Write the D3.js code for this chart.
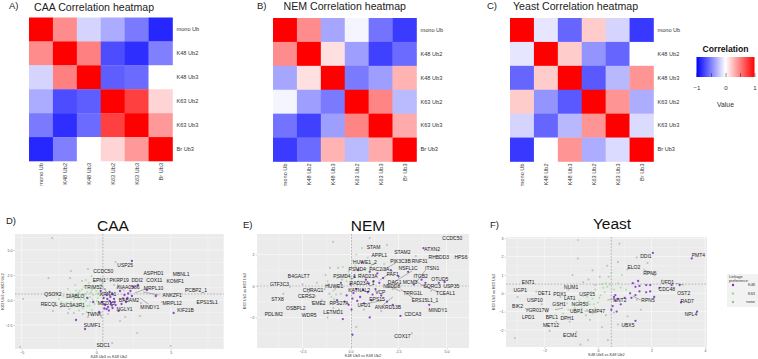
<!DOCTYPE html>
<html>
<head>
<meta charset="utf-8">
<script src="https://cdn.jsdelivr.net/npm/d3@7"></script>
<style>
  body { margin: 0; background: #fff; }
  svg, svg text { display: block; font-family: "Liberation Sans", Arial, sans-serif; }
</style>
</head>
<body>
<div id="chart"></div>
<script>
// linkage names shared by the three heatmaps
var linkages = ["mono Ub", "K48 Ub2", "K48 Ub3", "K63 Ub2", "K63 Ub3", "Br Ub3"];

var caaCorr = [
  [1, .45, -.17, -.33, -.52, -.85],
  [.45, 1, .5, -.7, -.82, -.5],
  [-.17, .5, 1, -.63, -.58, 0],
  [-.33, -.7, -.63, 1, .75, .17],
  [-.52, -.82, -.58, .75, 1, .4],
  [-.85, -.5, 0, .17, .4, 1]
];
var nemCorr = [
  [1, .45, -.35, -.04, -.55, -.77],
  [.45, 1, .12, -.38, -.75, -.58],
  [-.35, .12, 1, -.52, -.38, .3],
  [-.04, -.38, -.52, 1, .48, -.27],
  [-.55, -.75, -.38, .48, 1, .33],
  [-.77, -.58, .3, -.27, .33, 1]
];
var yeastCorr = [
  [1, -.1, -.6, .2, -.17, -.78],
  [-.1, 1, .2, -.42, -.6, 0],
  [-.6, .2, 1, -.65, -.28, .42],
  [.2, -.42, -.65, 1, .42, -.32],
  [-.17, -.6, -.28, .42, 1, -.14],
  [-.78, 0, .42, -.32, -.14, 1]
];

var corrTicks = [-1, -.5, 0, .5, 1];
var corrLabels = [-1, 0, 1];

// ---- scatter values, [x, y]
var caaK48 = [[2.4,3.9],[5.2,-1.3],[-.75,-2.9],[-1.35,-2],[.5,.2],[.7,.5],[.9,-.1],[1.1,.6],[.6,-.5],[.8,-.7],[1,-.3],[1.2,.1],[.4,-.2],[.9,.8],[1.3,-.5],[.7,-.9],[1.1,-.8],[1.6,.9],[1.9,.5],[2.1,.2],[2.3,.9],[2.5,1.3],[2,-.2],[1.7,-.4],[2.4,.4],[2.8,1.5],[3.4,1],[4,.4],[-.6,.2],[-.2,-.2],[.2,-1.2],[1.5,-1.1],[.3,.9],[.75,.1],[.95,.3],[.55,-.85],[1.05,-.55],[.85,-1.05],[1.25,-.2],[2.15,.65],[1.8,.15]];
var caaK63 = [[-1.9,1.1],[-1.6,.6],[-1.4,1.5],[-1.2,.2],[-1.1,.9],[-1,-.3],[-.9,.5],[-.8,1.3],[-.7,-.1],[-.6,.8],[-.5,1.7],[-.4,.3],[-.3,1],[-.2,.5],[-.1,-.4],[0,.9],[.1,.2],[.2,1.4],[-1.7,-.2],[-1.3,-.6],[-.9,-.8],[-.6,-.6],[-.3,-1],[-2.2,.4],[-2.5,.1],[-.7,2],[-.3,2.4],[-.1,1.9],[.4,1.6],[-1.5,.1],[-.8,.1],[-.4,-.2],[-2,-.3],[-1.8,.3],[-1.55,-.5],[-1.25,.5],[-1.05,.05],[-.95,1.05],[-.75,.6],[-.55,.15],[-.45,-.55],[-.25,.05],[-.15,1.15],[.05,-.1],[.15,.7],[-1.35,.95],[-2.35,-.2],[-.65,-1.2],[-1.15,-1.05],[.25,.45]];
var caaNone = [[-2.95,6.2],[-3.2,2.2],[-1.7,2.9],[-1.75,2.2],[-5.1,-4.7],[-4.9,.1],[-2.9,-1.1],[1.07,-4.3],[-.55,3.1],[1.3,3.8],[5,-4.6],[2.75,-3.3],[1.95,-1.7],[2.95,-1.6],[1.6,-2.1],[.8,-1.4],[-.2,-1.5],[-.9,-1.4],[1.4,1.2],[.6,1.1],[-2.1,-.5],[-1.8,-.9],[2.2,-.9],[3,-.3],[.1,.6],[-1.2,.7],[-2.7,.7],[-2.4,-.7],[-1.5,-1.3],[-.55,-1.7],[.35,-1.7],[1.2,1.5],[.75,2.1],[-.95,1.9],[-1.45,.45],[-.35,.75],[-1.9,-1.3],[3.6,-.7],[4.4,-.2]];

var nemK48 = [[.1,-3.1],[-.4,-2.1],[1,-2],[.05,-1.5],[-.5,.2],[.2,.6],[.4,1],[.6,1.5],[.8,.4],[1,.9],[1.2,.3],[1.4,.8],[.3,-.2],[.5,-.7],[.7,-1.1],[.9,-.4],[1.1,-.9],[1.3,-.2],[1.6,-.6],[1.9,-1],[2.2,-1.2],[2.6,-1.9],[3.8,2.4],[3.7,.4],[3.9,.2],[4.6,.2],[4.9,.25],[4.1,-1.2],[-.2,-.6],[-.3,-1],[0,.1],[1.7,.5],[2.1,1],[2.5,.6],[3,.9],[3.3,.1],[-.7,-.9],[.15,-.45],[.65,-.25],[.95,.15],[1.15,-.55],[.35,-.95],[.1,-.8],[1.5,.2],[-.1,-1.2]];
var nemK63 = [[.1,1.6],[.3,2],[.6,2.4],[.9,1.8],[1.2,1.4],[.4,.3],[-.1,.9],[-.4,1.2],[-.7,.5],[-.9,-.3],[-1,-.7],[-.6,-1.1],[1.5,1.9],[.8,1.1],[-.2,.3],[-1.2,.3],[.55,.75],[.25,1.25],[-.25,.65],[-.55,.05],[-.75,-.55],[.05,.45],[1.05,1.25],[1.75,1.4]];
var nemNone = [[-.9,2.8],[1,3.05],[-1.2,-2],[-1.3,.7],[-1.07,1.15],[-.65,1.15],[-3.15,-.05],[-1.75,.2],[3.2,-3],[5.4,3.1],[-2.2,-.4],[-2,-1],[-1.5,-.9],[-1.6,-.3],[-1.1,-.5],[-.8,-.2],[-.5,-.5],[-.9,-1.4],[1.9,2.6],[2.9,1.6],[4.2,-.3],[2.2,-.2],[3.5,-1],[.3,-2.6],[-1.35,-.2],[-1.15,.1],[-.85,-.85],[-.45,.4],[-.6,-1.5],[-1.85,-.65],[-2.5,.1],[-3.5,-.5],[1.6,-1.6],[.7,-1.5],[2.7,1.2],[3.4,1.9]];

var yeastK48 = [[2.05,2.2],[3.5,1.9],[3.7,-1],[1.4,-1.5],[1.5,.67],[1.3,.55],[1.4,.35],[1.55,.4],[1.8,.45],[1.95,.45],[1.4,-.1],[1.2,0],[1.25,-.25],[1.55,.1],[1.8,.05],[1.95,.1],[2.1,-.2],[2.75,.45],[3.05,.45],[3.1,-.5],[2.3,.3],[.65,-.1],[.65,-.4],[.55,-.7],[.5,-.9],[.7,-1],[1,-.25],[.85,-.6],[.6,-.2],[.75,-.3]];
var yeastK63 = [[-.75,2.9],[.35,.35],[-.9,-.6],[-.7,-.4],[-.6,-.8],[-.5,-.5],[-.4,-.9],[-.3,-.6],[-.2,-.3],[-.1,-.8],[0,-.5],[.1,-.1],[.2,.3],[-1.1,-.9],[-1.3,-1.1],[-.8,-1],[-.4,-.2],[-.1,.2],[.3,.55],[.5,1.1],[.9,1],[.85,.3],[.6,.2],[-1.6,-1.2],[-1.9,-1],[-.2,-1.1],[-.95,-.3],[-.55,-.15],[-.85,-.8],[-.65,-1.05],[-.35,-.45],[-.15,-.6],[.05,-.25],[.25,.05],[.15,.5],[.45,.5],[.75,.55],[1.05,.2],[-1.15,-.55],[-.25,.05]];
var yeastNone = [[.8,2.7],[1.45,1.95],[1.85,1.65],[.75,1.7],[1.1,-1.25],[1.45,-.35],[-3.1,-2.45],[-1.8,-2.05],[-.65,-2.8],[-.37,-2.55],[.37,-2.55],[-.75,1.9],[-.2,1.25],[.07,.9],[-.95,1],[-.8,-2.1],[-.3,-1.45],[.15,-1.85],[-2.1,-.6],[-1.4,-.2],[-1.1,.2],[-2.6,-.9],[.3,-1.2],[.75,-1.7],[1.6,-.9],[2.4,.7],[-.55,.6],[-.1,.45],[.4,.9],[-1.55,-1.55],[-1.05,-1.55],[-.45,-1.2],[.6,-1.05],[-3,-.2],[-2.3,.1],[-.35,.75],[1.1,1.3],[.35,1.5]];

// ---- gene labels, [name, x, y] in data units of each panel
var caaGenes = [["USP25",1.95,3.5],["CCDC50",.47,2.83],["EPN1",.2,1.93],["PKRP19",1.54,1.93],["DDI2",2.75,1.93],["COX11",3.9,1.93],["KOMF1",5.3,1.83],["ASPHD1",3.85,2.7],["MBNL1",5.7,2.6],["TRIM52",-.2,1.3],["KIAA0586",2.15,1.3],["MRPL10",3.85,1.2],["PCBP2_1",6.7,1],["ANKZF1",5.1,.5],["MRPL12",5.1,-.3],["EPS15L1",7.45,-.2],["KIF21B",6,-1],["MINDY1",3.6,-.7],["NGLY1",1.9,-.9],["BABAM2",2.2,0],["QSOX2",-2.9,.6],["DIABLO",-1.4,.4],["RECQL",-3.15,-.4],["SLC9A3R1",-1.6,-.5],["TWNK",-.13,-1.4],["SUMF1",-.27,-2.5],["SDC1",.47,-4.5],["KPNA1",.8,.6],["MED15",.67,-.3]];
var nemGenes = [["STAM",1.2,2.47],["APPL1",1.5,1.97],["CCDC50",5.3,3.05],["ATXN2",4.25,2.35],["STAM2",2.7,2.15],["RHBDD3",4.6,1.85],["HPS6",5.75,1.85],["PIK3C3B",2.6,1.6],["RNF31",3.6,1.6],["HUWE1_2",.75,1.52],["PSMD4",.35,1.08],["PAC2/3A",1.5,1.08],["NSFL1C",3,1.15],["ITSN1",4.25,1.15],["FAF1",2.2,.72],["PSMD4_1",-.3,.63],["RAD23A",.9,.63],["ITGB2",3.65,.63],["OTUD5",4.65,.45],["DAG1",2.3,.25],["RAD23A_1",.6,.2],["MCM3",3.1,.25],["NEDD8",2.15,-.02],["SQRC3",4.25,0],["USP35",5.25,0],["TCEAL1",4.95,-.45],["TPRG1L",3.25,-.45],["KATNAL2",.45,-.3],["HUWE1",-.85,-.05],["CHRAC1",-1.95,-.25],["B4GALT7",-2.7,.63],["GTF3C3",-3.7,.13],["CERS2",-2.3,-.63],["STX8",-3.8,-.82],["OSBPL2",-2.85,-1.4],["PDLIM2",-4,-1.78],["WDR5",-2.15,-1.85],["EME2",-1.65,-1.08],["RPS27A",-.6,-1.08],["LETMD1",-.9,-1.65],["UFD1",.7,-1.2],["EPS15",1.38,-.82],["EPS15L1_1",3.88,-.9],["ANKRD13B",1.95,-1.33],["VCP",1.55,-.42],["MINDY1",4.55,-1.52],["CDCA3",3.25,-1.78],["COX17",2.7,-3.17]];
var yeastGenes = [["ENT1",-2.6,.62],["UGP1",-2.9,.18],["USP10",-2.35,-.37],["DET1",-2,.02],["PDX1",-1.42,-.04],["LAT1",-1.05,-.27],["NUM1",-1,.34],["USP15",-.4,-.04],["GSH1",-1.45,-.58],["NGR50",-.67,-.58],["BIK2",-3,-.7],["YGR017W",-2.27,-.9],["UBP1",-.8,-.97],["EMP47",-.04,-.97],["LPD1",-2.6,-1.3],["BPL1",-1.72,-1.3],["DPH1",-1.15,-1.35],["MET12",-1.75,-1.73],["ECM1",-1.04,-2.3],["NNT2",.82,-.37],["RPN5",1.87,-.37],["DDI1",1.79,2.04],["PMT4",3.75,2.1],["ELO2",1.34,1.44],["RPN6",1.94,1.1],["UFD1",2.6,.62],["CDC48",2.57,.24],["OST2",3.2,0],["RAD7",3.33,-.42],["NPL4",3.47,-1.13],["UBX5",1.12,-1.73]];

// ---- repel segments [x1, y1, x2, y2]
var caaLinks = [[2.95,.2,3.5,-.4],[3.15,.8,4.2,.5],[1.4,1.6,1.9,.9],[.3,1.6,.7,.8],[3.3,1.1,2.6,.7]];
var nemLinks = [[2.2,.95,1.5,.35],[2.4,1.5,1.7,1],[3.2,.95,2.2,.2],[2.6,-.35,1.9,.1],[3.3,-.8,2.6,-.2],[3.9,-.1,3.3,.4],[3.9,1,3.4,.2],[4.5,-.35,3.7,.1],[1.7,-1.2,2.2,-.7],[.9,-1.1,1.8,-.9]];
var yeastLinks = [[1.7,1.3,2.15,.95],[-1.6,-.9,-1.3,-.8],[-.5,-.97,-.3,-.97],[.35,-.37,.6,-.3],[2.9,.55,3.2,.45],[1.6,-.37,1.3,-.15]];

var pointColors = { K48: "#7d2bc4", K63: "#8fdf8f", none: "#b0b0b0" };
var legendKeys = ["K48", "K63", "none"];

var svg = d3.select("#chart").append("svg")
            .attr("width", 758)
            .attr("height", 359);

var corrColor = d3.scaleLinear().domain([-1, 0, 1]).range(["#0000ff", "#ffffff", "#ff0000"]);

function drawHeatmap(values, x0, y0, title, titleX, titleY, letter, letterX) {
  var size = 143.5;
  var x = d3.scaleBand().domain(linkages).range([0, size]);
  var y = d3.scaleBand().domain(linkages).range([0, size]);
  var g = svg.append("g").attr("transform", "translate(" + x0 + "," + y0 + ")");

  values.forEach(function(row, i) {
    g.selectAll(null)
      .data(row)
      .enter().append("rect")
      .attr("x", function(d, j) { return x(linkages[j]); })
      .attr("y", y(linkages[i]))
      .attr("width", x.bandwidth() + .3)
      .attr("height", y.bandwidth() + .3)
      .attr("fill", function(d) { return corrColor(d); });
  });

  // side labels
  var right = g.append("g")
    .attr("transform", "translate(" + size + ",0)")
    .call(d3.axisRight(y).tickSize(0).tickPadding(4));
  right.select(".domain").remove();
  right.selectAll("text").attr("font-size", 5.6).attr("fill", "#333");

  // bottom labels, turned
  var bottom = g.append("g")
    .attr("transform", "translate(0," + size + ")")
    .call(d3.axisBottom(x).tickSize(0).tickPadding(0));
  bottom.select(".domain").remove();
  bottom.selectAll("text")
    .attr("font-size", 5.6).attr("fill", "#333")
    .attr("text-anchor", "end")
    .attr("dy", 0)
    .attr("transform", "translate(2,2) rotate(-90)");

  svg.append("text").attr("x", titleX).attr("y", titleY).attr("font-size", 10.6).attr("fill", "#222").text(title);
  svg.append("text").attr("x", letterX).attr("y", 8.5).attr("font-size", 9.5).attr("fill", "#222").text(letter);
}

drawHeatmap(caaCorr, 29, 17.5, "CAA Correlation heatmap", 34, 11, "A)", 9);
drawHeatmap(nemCorr, 273, 18, "NEM Correlation heatmap", 283.5, 9.5, "B)", 257);
drawHeatmap(yeastCorr, 510, 18, "Yeast Correlation heatmap", 513, 9.5, "C)", 487);

//-------------------COLOUR BAR----------------------------------------------------------------------------
var defs = svg.append("defs");
var grad = defs.append("linearGradient").attr("id", "corrGrad");
grad.selectAll("stop")
  .data(corrColor.domain())
  .enter().append("stop")
  .attr("offset", function(d) { return (d + 1) * 50 + "%"; })
  .attr("stop-color", function(d) { return corrColor(d); });

var barX = d3.scaleLinear().domain([-1, 1]).range([696.5, 754.5]);
svg.append("text").attr("x", 725.5).attr("y", 51.5).attr("text-anchor", "middle")
   .attr("font-size", 8.6).attr("font-weight", "bold").attr("fill", "#111").text("Correlation");
svg.append("rect").attr("x", barX(-1)).attr("y", 57).attr("width", barX(1) - barX(-1)).attr("height", 20)
   .attr("fill", "url(#corrGrad)");
var barAxis = svg.append("g")
   .attr("transform", "translate(0,77)")
   .call(d3.axisBottom(barX).tickValues(corrTicks).tickSize(4)
          .tickFormat(function(d) { return corrLabels.indexOf(d) >= 0 ? d3.format("d")(d) : ""; }));
barAxis.select(".domain").remove();
barAxis.selectAll("line").attr("y1", -4).attr("y2", 0).attr("stroke", "#222").attr("stroke-width", .5);
barAxis.selectAll("text").attr("y", 9).attr("dy", ".71em").attr("font-size", 6.2).attr("fill", "#333");
svg.append("text").attr("x", 725.5).attr("y", 107).attr("text-anchor", "middle")
   .attr("font-size", 6.8).attr("fill", "#333").text("Value");

//-------------------VOLCANO PANELS----------------------------------------------------------------------------
function drawScatter(o) {
  var w = o.box[2] - o.box[0], h = o.box[3] - o.box[1];
  var x = d3.scaleLinear().domain(o.xDomain).range([0, w]);
  var y = d3.scaleLinear().domain(o.yDomain).range([h, 0]);
  var g = svg.append("g").attr("transform", "translate(" + o.box[0] + "," + o.box[1] + ")");

  g.append("rect").attr("width", w).attr("height", h).attr("fill", "#ebebeb");

  // minor then major gridlines
  g.append("g").selectAll("line").data(o.xMinor).enter().append("line")
    .attr("x1", x).attr("x2", x).attr("y2", h).attr("stroke", "#fff").attr("stroke-width", .25);
  g.append("g").selectAll("line").data(o.yMinor).enter().append("line")
    .attr("y1", y).attr("y2", y).attr("x2", w).attr("stroke", "#fff").attr("stroke-width", .25);

  var xAxis = g.append("g").attr("transform", "translate(0," + h + ")")
    .call(d3.axisBottom(x).tickValues(o.xTicks).tickFormat(d3.format(o.fmtX)).tickSize(1.5).tickPadding(1));
  var yAxis = g.append("g")
    .call(d3.axisLeft(y).tickValues(o.yTicks).tickFormat(d3.format(o.fmtY)).tickSize(1.5).tickPadding(1));
  [xAxis, yAxis].forEach(function(a) {
    a.select(".domain").remove();
    a.selectAll("line").attr("stroke", "#666").attr("stroke-width", .3);
    a.selectAll("text").attr("font-size", 3.6).attr("fill", "#555");
  });

  // major grid on top of the background
  g.append("g").selectAll("line").data(o.xTicks).enter().append("line")
    .attr("x1", x).attr("x2", x).attr("y2", h).attr("stroke", "#fff").attr("stroke-width", .5);
  g.append("g").selectAll("line").data(o.yTicks).enter().append("line")
    .attr("y1", y).attr("y2", y).attr("x2", w).attr("stroke", "#fff").attr("stroke-width", .5);

  // threshold lines
  g.append("line").attr("x1", x(o.xCut)).attr("x2", x(o.xCut)).attr("y2", h)
    .attr("stroke", "#888").attr("stroke-width", .6).attr("stroke-dasharray", "1.6,1.6");
  g.append("line").attr("y1", y(o.yCut)).attr("y2", y(o.yCut)).attr("x2", w)
    .attr("stroke", "#888").attr("stroke-width", .6).attr("stroke-dasharray", "1.6,1.6");

  [[o.none, pointColors.none, .75, 1.05], [o.k63, pointColors.K63, .7, 1.05], [o.k48, pointColors.K48, .85, 1.15]].forEach(function(s) {
    g.append("g").selectAll("circle").data(s[0]).enter().append("circle")
      .attr("cx", function(d) { return x(d[0]); })
      .attr("cy", function(d) { return y(d[1]); })
      .attr("r", s[3])
      .attr("fill", s[1])
      .attr("opacity", s[2]);
  });

  g.append("g").selectAll("line").data(o.links).enter().append("line")
    .attr("x1", function(d) { return x(d[0]); })
    .attr("y1", function(d) { return y(d[1]); })
    .attr("x2", function(d) { return x(d[2]); })
    .attr("y2", function(d) { return y(d[3]); })
    .attr("stroke", "#333").attr("stroke-width", .35);

  g.append("g").selectAll("text").data(o.genes).enter().append("text")
    .attr("x", function(d) { return x(d[1]); })
    .attr("y", function(d) { return y(d[2]); })
    .attr("dy", ".35em")
    .attr("text-anchor", "middle")
    .attr("font-size", 5)
    .attr("fill", "#222")
    .text(function(d) { return d[0]; });

  g.append("text").attr("x", w * o.xLabelAt).attr("y", h + 9).attr("text-anchor", "middle")
    .attr("font-size", 3.9).attr("fill", "#333").text("K48 Ub3 vs K48 Ub2");
  g.append("text").attr("transform", "translate(" + (-11) + "," + (h / 2) + ") rotate(-90)").attr("text-anchor", "middle")
    .attr("font-size", 3.9).attr("fill", "#333").text("K63 Ub3 vs K63 Ub2");

  svg.append("text").attr("x", o.titleX).attr("y", o.titleY).attr("text-anchor", "middle")
    .attr("font-size", 15.5).attr("fill", "#111").text(o.title);
  svg.append("text").attr("x", o.letterX).attr("y", o.letterY).attr("font-size", 9.5).attr("fill", "#222").text(o.letter);
}

drawScatter({
  box: [15, 234, 223.7, 349], xDomain: [-5.45, 8.56], yDomain: [-4.9, 6.6],
  xTicks: [-5, 0, 5], yTicks: [-2.5, 0, 2.5, 5], xMinor: [-2.5, 2.5, 7.5], yMinor: [-3.75, -1.25, 1.25, 3.75, 6.25],
  fmtX: "d", fmtY: ".1f", xCut: .45, yCut: .6, xLabelAt: .45,
  k48: caaK48, k63: caaK63, none: caaNone, genes: caaGenes, links: caaLinks,
  title: "CAA", titleX: 113, titleY: 231, letter: "D)", letterX: 6, letterY: 224
});
drawScatter({
  box: [257, 234, 469, 348], xDomain: [-4.87, 6.17], yDomain: [-3.94, 3.3],
  xTicks: [-2.5, 0, 2.5, 5], yTicks: [-2, 0, 2], xMinor: [-3.75, -1.25, 1.25, 3.75], yMinor: [-3, -1, 1, 3],
  fmtX: ".1f", fmtY: "d", xCut: .05, yCut: 0, xLabelAt: .5,
  k48: nemK48, k63: nemK63, none: nemNone, genes: nemGenes, links: nemLinks,
  title: "NEM", titleX: 368, titleY: 231, letter: "E)", letterX: 243, letterY: 228
});
drawScatter({
  box: [506, 237, 707, 347], xDomain: [-3.43, 4.07], yDomain: [-2.93, 3.07],
  xTicks: [-2, 0, 2, 4], yTicks: [-2, -1, 0, 1, 2, 3], xMinor: [-3, -1, 1, 3], yMinor: [-2.5, -1.5, -.5, .5, 1.5, 2.5],
  fmtX: "d", fmtY: "d", xCut: .5, yCut: .5, xLabelAt: .5,
  k48: yeastK48, k63: yeastK63, none: yeastNone, genes: yeastGenes, links: yeastLinks,
  title: "Yeast", titleX: 612, titleY: 229, letter: "F)", letterX: 490, letterY: 228
});

// linkage legend
var keyY = d3.scalePoint().domain(legendKeys).range([285, 302]);
svg.append("rect").attr("x", 727).attr("y", 274).attr("width", 31).attr("height", 33).attr("fill", "#f2f2f2");
svg.append("text").attr("x", 729).attr("y", 278).attr("font-size", 3.9).attr("fill", "#333").text("Linkage");
svg.append("text").attr("x", 729).attr("y", 282).attr("font-size", 3.9).attr("fill", "#333").text("preference:");
svg.append("g").selectAll("circle").data(legendKeys).enter().append("circle")
  .attr("cx", 733).attr("cy", keyY).attr("r", 1.2)
  .attr("fill", function(d) { return pointColors[d]; });
svg.append("g").selectAll("text").data(legendKeys).enter().append("text")
  .attr("x", 755).attr("y", keyY).attr("dy", ".35em").attr("text-anchor", "end")
  .attr("font-size", 3.9).attr("fill", "#333").text(function(d) { return d; });
</script>
</body>
</html>
